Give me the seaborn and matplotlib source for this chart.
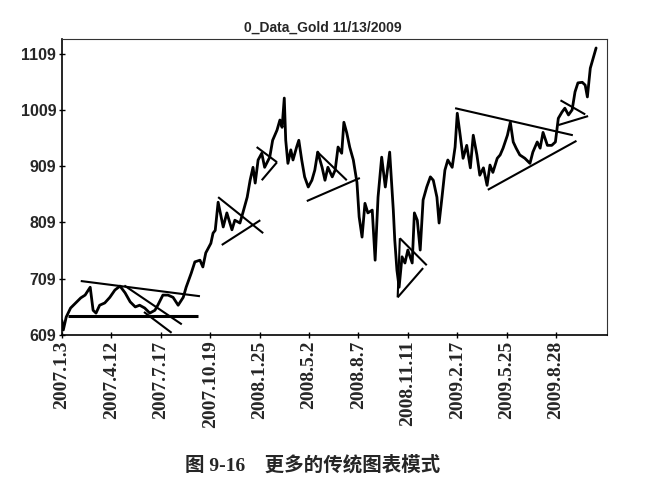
import numpy as np
import pandas as pd
import seaborn as sns
import matplotlib.pyplot as plt

# gold price (trading-day index vs price)
day = [0, 2, 6, 12, 19, 26, 32, 39, 43, 47, 52, 59, 66, 73, 80, 87, 94, 101,
       107, 114, 121, 128, 132, 139, 146, 153, 160, 167, 171, 178, 183, 190,
       194, 198, 205, 208, 211, 215, 222, 227, 234, 238, 245, 249, 255, 259,
       263, 266, 270, 275, 279, 286, 290, 296, 300, 303, 306, 308, 311, 315,
       318, 323, 326, 330, 334, 339, 344, 348, 352, 358, 362, 366, 372, 376,
       380, 385, 388, 392, 396, 401, 406, 409, 413, 417, 421, 427, 431, 435,
       440, 445, 451, 456, 458, 461, 464, 468, 472, 476, 482, 485, 489, 493,
       497, 502, 507, 511, 516, 519, 523, 527, 531, 537, 541, 544, 548, 552,
       557, 562, 566, 571, 575, 580, 585, 589, 593, 599, 603, 607, 613, 617,
       621, 625, 630, 637, 644, 648, 654, 658, 662, 668, 674, 679, 683, 688,
       692, 697, 702, 706, 710, 716, 720, 723, 727, 731, 735]
price = [635, 618, 641, 657, 666, 675, 680, 694, 653, 648, 662, 666, 676, 689,
         696, 684, 668, 659, 662, 657, 648, 653, 662, 680, 680, 676, 662, 676,
         694, 719, 739, 742, 730, 755, 772, 790, 795, 845, 801, 826, 796, 813,
         808, 826, 854, 884, 907, 879, 920, 932, 907, 925, 955, 973, 991, 978,
         1030, 955, 914, 938, 920, 943, 955, 920, 890, 872, 884, 902, 934, 907,
         884, 907, 890, 902, 943, 932, 987, 968, 943, 920, 880, 819, 783, 843,
         826, 831, 742, 854, 925, 872, 934, 831, 778, 724, 694, 748, 737, 760,
         737, 826, 813, 760, 849, 872, 890, 884, 854, 808, 854, 902, 920, 907,
         943, 1003, 964, 923, 946, 906, 964, 929, 893, 906, 875, 911, 898, 923,
         929, 941, 964, 987, 952, 941, 929, 923, 914, 934, 952, 941, 969, 946,
         946, 952, 994, 1005, 1012, 1000, 1009, 1041, 1057, 1058, 1053, 1032,
         1083, 1101, 1119]

# trend lines: (day0, price0) -> (day1, price1)
trend_start_day = [8, 26, 86, 113, 215, 220, 268, 275, 351, 337, 465, 462, 462, 541, 586, 686, 683]
trend_start_px = [643, 705, 697, 650, 854, 769, 943, 884, 935, 847, 781, 676, 676, 1012, 867, 1026, 982]
trend_end_day = [187, 190, 165, 151, 277, 273, 296, 296, 392, 410, 502, 497, 465, 703, 708, 720, 724]
trend_end_px = [643, 678, 628, 613, 790, 813, 916, 916, 884, 888, 733, 728, 781, 964, 954, 1001, 998]

tick_labels = ['2007.1.3', '2007.4.12', '2007.7.17', '2007.10.19', '2008.1.25',
               '2008.5.2', '2008.8.7', '2008.11.11', '2009.2.17', '2009.5.25',
               '2009.8.28']
y_ticks = [609, 709, 809, 909, 1009, 1109]

df = pd.DataFrame({'day': day, 'price': price})

sns.set_style('ticks')
plt.rcParams['font.family'] = ['Liberation Sans', 'DejaVu Sans']

fig = plt.figure(figsize=(6.58, 4.87), dpi=100)
ax = fig.add_axes([0.094, 0.312, 0.8285, 0.608])

sns.lineplot(data=df, x='day', y='price', ax=ax, color='black', linewidth=2.0)

for i in range(len(trend_start_day)):
    lw = 2.2 if trend_start_px[i] == trend_end_px[i] else 1.5
    ax.plot([trend_start_day[i], trend_end_day[i]], [trend_start_px[i], trend_end_px[i]],
            color='black', linewidth=lw, solid_capstyle='butt')

ax.set_xlim(0, 750)
ax.set_ylim(609, 1135)
ax.set_xticks(np.arange(len(tick_labels)) * 68)
ax.set_xticklabels(tick_labels, rotation=90, fontsize=14, fontweight='bold',
                   family=['Liberation Serif'])
ax.set_yticks(y_ticks)
ax.set_yticklabels([str(v) for v in y_ticks], fontsize=11.5, fontweight='bold')
ax.set_xlabel('')
ax.set_ylabel('')
ax.tick_params(axis='both', direction='inout', length=5, width=1, color='black', pad=1.5)

for side in ['left', 'bottom']:
    ax.spines[side].set_linewidth(1.2)
    ax.spines[side].set_color('black')
for side in ['top', 'right']:
    ax.spines[side].set_visible(True)
    ax.spines[side].set_linewidth(0.8)
    ax.spines[side].set_color('#333333')
    ax.spines[side].set_linestyle((0, (4, 1)))

fig.text(0.49, 0.944, '0_Data_Gold 11/13/2009', ha='center', va='center',
         fontsize=10, fontweight='bold')
fig.text(0.475, 0.046, '图 9-16    更多的传统图表模式', ha='center', va='center',
         fontsize=14, family=['Liberation Serif', 'Noto Sans CJK SC'], fontweight='bold')

fig.savefig('out.png', dpi=100)
